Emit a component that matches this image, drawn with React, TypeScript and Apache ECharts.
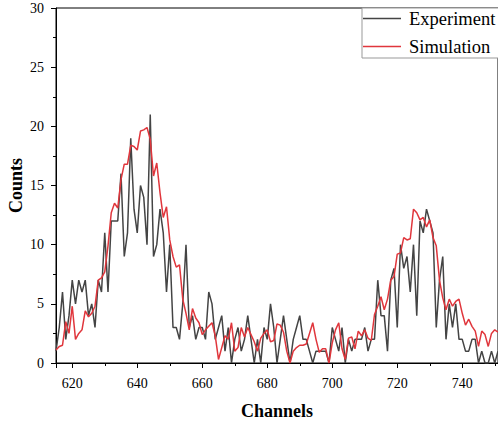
import React, { useEffect, useRef } from "react";
import * as echarts from "echarts";

const CHANNEL_START = 615;

const experiment = [
  1, 3, 6, 2, 4, 7, 5, 7, 6, 7, 4, 5, 3, 7, 6, 11, 6, 12, 12, 12,
  16, 9, 11, 19, 13, 11, 15, 14, 10, 21, 9, 10, 13, 11, 6, 10, 3, 3, 2, 5,
  10, 3, 4, 2, 3, 3, 2, 6, 5, 2, 3, 4, 1, 3, 0, 2, 3, 1, 2, 4,
  2, 0, 2, 0, 3, 2, 5, 3, 0, 2, 4, 2, 0, 2, 3, 4, 2, 2, 1, 0,
  1, 1, 1, 1, 0, 3, 2, 1, 3, 0, 2, 1, 2, 2, 2, 3, 1, 2, 2, 7,
  4, 4, 1, 7, 8, 3, 10, 8, 9, 6, 10, 4, 12, 11, 13, 12, 11, 3, 7, 9,
  2, 5, 3, 5, 2, 2, 1, 1, 2, 2, 0, 1, 0, 0, 1, 0, 1,
];

const simulation = [
  1.1, 1.4, 1.5, 3.5, 2.5, 4.8, 2.0, 2.5, 2.8, 4.4, 3.9, 4.2, 4.8, 7.0, 7.2, 7.7, 9.9, 12.7, 13.5, 13.1,
  15.5, 16.8, 16.8, 18.4, 18.3, 18.0, 19.6, 19.7, 19.9, 18.9, 15.8, 16.9, 14.4, 12.3, 13.2, 10.4, 9.0, 8.1, 8.3, 5.4,
  4.2, 2.8, 4.6, 3.8, 3.4, 2.4, 2.8, 3.1, 3.4, 2.3, 0.3, 1.3, 2.3, 2.0, 3.4, 1.0, 1.3, 3.0, 2.2, 3.0,
  2.4, 1.8, 1.0, 2.1, 2.5, 2.8, 1.8, 1.9, 3.3, 3.2, 2.6, 1.0, 0.0, 1.0, 1.3, 1.5, 1.5, 1.6, 2.5, 3.4,
  2.0, 0.9, 1.2, 1.2, 0.0, 1.7, 2.8, 3.4, 1.2, 0.3, 2.1, 2.2, 1.2, 2.7, 2.3, 2.8, 2.1, 1.9, 4.1, 4.8,
  5.6, 4.5, 5.4, 7.0, 7.3, 9.2, 9.3, 10.6, 10.4, 10.5, 13.0, 12.7, 12.1, 12.3, 11.5, 12.1, 10.6, 9.9, 7.0, 5.5,
  4.5, 5.4, 4.8, 5.2, 5.4, 4.2, 3.2, 3.7, 3.1, 2.7, 1.4, 2.7, 2.4, 1.4, 2.5, 2.8, 2.6,
];

const seriesNames = ["Experiment", "Simulation"];
const seriesColors = ["#444444", "#e0363c"];

const FONT = "'Liberation Serif', 'Times New Roman', serif";

export default function App() {
  const ref = useRef<HTMLDivElement>(null);

  useEffect(() => {
    document.body.style.margin = "0";
    const chart = echarts.init(ref.current!, null, { renderer: "svg" });
    const toPairs = (arr: number[]) => arr.map((v, i) => [CHANNEL_START + i, v]);

    chart.setOption({
      animation: false,
      backgroundColor: "#ffffff",
      textStyle: { fontFamily: FONT },
      grid: {
        left: 56,
        right: 0,
        top: 8,
        bottom: 62,
        containLabel: false,
        outerBoundsMode: "none",
        show: true,
        borderColor: "#000",
        borderWidth: 1,
      },
      legend: {
        orient: "vertical",
        left: 362,
        top: 8,
        data: seriesNames,
        icon: "rect",
        itemWidth: 38,
        itemHeight: 1.5,
        itemGap: 9,
        padding: [1, 12, 2, 1],
        borderColor: "#999",
        borderWidth: 1,
        backgroundColor: "#fff",
        textStyle: {
          fontFamily: FONT,
          fontSize: 18.5,
          color: "#000",
          lineHeight: 18,
          padding: [0, 0, 0, 3],
        },
      },
      xAxis: {
        type: "value",
        min: 615,
        max: 751,
        splitNumber: 7,
        minInterval: 20,
        maxInterval: 20,
        name: "Channels",
        nameLocation: "middle",
        nameGap: 39,
        nameMoveOverlap: false,
        nameTextStyle: { fontFamily: FONT, fontSize: 18, fontWeight: "bold", color: "#000" },
        axisLine: { show: true, lineStyle: { color: "#000", width: 1 } },
        axisTick: { show: true, inside: false, length: 5, lineStyle: { color: "#000" } },
        minorTick: { show: true, splitNumber: 2, length: 3, lineStyle: { color: "#000" } },
        axisLabel: {
          fontFamily: FONT,
          fontSize: 14,
          color: "#000",
          margin: 13,
          showMinLabel: false,
          showMaxLabel: false,
          formatter: (v: number) => (v % 20 === 0 ? String(v) : ""),
        },
        splitLine: { show: false },
      },
      yAxis: {
        type: "value",
        min: 0,
        max: 30,
        interval: 5,
        name: "Counts",
        nameLocation: "middle",
        nameGap: 31,
        nameMoveOverlap: false,
        nameTextStyle: { fontFamily: FONT, fontSize: 18, fontWeight: "bold", color: "#000" },
        axisLine: { show: true, lineStyle: { color: "#000", width: 1 } },
        axisTick: { show: true, inside: false, length: 5, lineStyle: { color: "#000" } },
        minorTick: { show: true, splitNumber: 2, length: 3, lineStyle: { color: "#000" } },
        axisLabel: { fontFamily: FONT, fontSize: 14, color: "#000", margin: 12 },
        splitLine: { show: false },
      },
      series: [
        {
          name: seriesNames[0],
          type: "line",
          data: toPairs(experiment),
          showSymbol: false,
          symbol: "none",
          lineStyle: { color: seriesColors[0], width: 1.5 },
          itemStyle: { color: seriesColors[0] },
          z: 2,
        },
        {
          name: seriesNames[1],
          type: "line",
          data: toPairs(simulation),
          showSymbol: false,
          symbol: "none",
          lineStyle: { color: seriesColors[1], width: 1.5 },
          itemStyle: { color: seriesColors[1] },
          z: 3,
        },
      ],
    });

    return () => chart.dispose();
  }, []);

  return (
    <div
      ref={ref}
      style={{ position: "absolute", left: 0, top: 0, width: 498, height: 425 }}
    />
  );
}
